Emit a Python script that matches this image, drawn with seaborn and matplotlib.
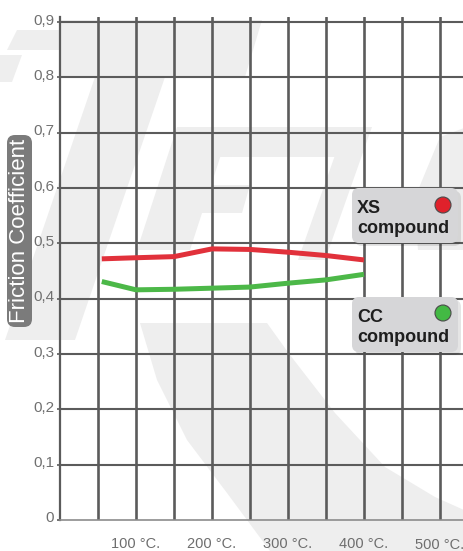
import numpy as np
import pandas as pd
import matplotlib
matplotlib.use('Agg')
import matplotlib.pyplot as plt
import matplotlib.transforms as mtransforms
from matplotlib.patches import FancyBboxPatch, Polygon, Circle
import seaborn as sns

# values
temps = [55, 100, 150, 200, 250, 300, 350, 400]
xs_friction = [0.472, 0.474, 0.476, 0.490, 0.489, 0.484, 0.478, 0.470]
cc_friction = [0.431, 0.416, 0.417, 0.419, 0.421, 0.428, 0.434, 0.444]
compounds = ['XS compound', 'CC compound']
line_colors = ['#e1313b', '#4cb848']
x_ticks = [100, 200, 300, 400, 500]
x_labels = ['100 °C.', '200 °C.', '300 °C.', '400 °C.', '500 °C.']
y_ticks = [0, 0.1, 0.2, 0.3, 0.4, 0.5, 0.6, 0.7, 0.8, 0.9]
y_labels = ['0', '0,1', '0,2', '0,3', '0,4', '0,5', '0,6', '0,7', '0,8', '0,9']

df = pd.DataFrame({
    'temp': temps + temps,
    'mu': xs_friction + cc_friction,
    'compound': [compounds[0]] * len(temps) + [compounds[1]] * len(temps),
})

W, H = 464, 551
sns.set_theme(style='white')
plt.rcParams['font.family'] = ['Liberation Sans', 'DejaVu Sans']

fig = plt.figure(figsize=(W / 100, H / 100), dpi=100, facecolor='white')
# pixel transform, origin top-left
px = mtransforms.Affine2D().scale(1, -1).translate(0, H)

# faint logo watermark in the background
wm = '#eeeeee'
shapes = [
    [(17, 30), (60, 30), (60, 50), (7, 50)],
    [(0, 55), (22, 55), (12, 82), (0, 82)],
    [(60, 20), (262, 20), (245, 77), (60, 77)],
    [(95, 77), (165, 77), (75, 340), (5, 340)],
    [(185, 127), (350, 127), (342, 157), (177, 157)],
    [(165, 185), (250, 185), (242, 213), (157, 213)],
    [(177, 127), (230, 127), (190, 250), (137, 250)],
    [(345, 127), (372, 127), (325, 260), (298, 260)],
    [(440, 137), (464, 128), (464, 250), (418, 250), (414, 200)],
    [(140, 323), (267, 323), (290, 355), (335, 413), (385, 467), (435, 497),
     (464, 510), (464, 551), (270, 551), (227, 493), (187, 440), (157, 380)],
]
for pts in shapes:
    fig.add_artist(Polygon(pts, closed=True, transform=px, fc=wm, ec='none', zorder=-5))

ax = fig.add_axes([60 / W, 31 / H, 404 / W, 503 / H])
ax.patch.set_alpha(0)

sns.lineplot(data=df, x='temp', y='mu', hue='compound', palette=line_colors,
             lw=3.6, legend=False, ax=ax, solid_capstyle='butt')

ax.set_xlim(0, 404 / 0.76)
ax.set_ylim(0, 503 / 553.3)
ax.set_xticks(x_ticks)
ax.set_xticklabels(x_labels)
ax.set_xticks([50, 150, 250, 350, 450], minor=True)
ax.set_yticks(y_ticks)
ax.set_yticklabels(y_labels)
ax.set_xlabel('')
ax.set_ylabel('')

grid_c = '#5b5b5b'
ax.set_axisbelow(True)
ax.grid(which='both', axis='x', color=grid_c, lw=1.9)
ax.grid(which='major', axis='y', color=grid_c, lw=1.5)
ax.get_ygridlines()[0].set_visible(False)

for s in ['top', 'right']:
    ax.spines[s].set_visible(False)
ax.spines['left'].set_color(grid_c)
ax.spines['left'].set_linewidth(1.6)
ax.spines['bottom'].set_color('#8c8c8c')
ax.spines['bottom'].set_linewidth(1.2)

ax.tick_params(axis='x', which='both', length=0, pad=12, labelsize=10.5, labelcolor='#6e6e6e')
ax.tick_params(axis='y', length=2.2, width=1.2, color=grid_c, pad=2,
               labelsize=11, labelcolor='#707070', left=True)

up = mtransforms.ScaledTranslation(0, 0.03, fig.dpi_scale_trans)
for lbl in ax.get_yticklabels():
    lbl.set_transform(lbl.get_transform() + up)
down = mtransforms.ScaledTranslation(0, -0.015, fig.dpi_scale_trans)
last = ax.get_xticklabels()[-1]
last.set_transform(last.get_transform() + down)

# y axis label in a rounded box
fig.add_artist(FancyBboxPatch((7, 135), 25, 192, boxstyle='round,pad=0,rounding_size=8',
                              transform=px, fc='#7b7b7b', ec='none'))
fig.text(20, 231, 'Friction Coefficient', transform=px, rotation=90, color='white',
         fontsize=16, ha='center', va='center')

# legend boxes
legend_boxes = [(188, 205, 'XS', '#e0212b'), (297, 313, 'CC', '#43b944')]
for top, cy, name, col in legend_boxes:
    fig.add_artist(FancyBboxPatch((355, top + 3), 106, 55, boxstyle='round,pad=0,rounding_size=7',
                                  transform=px, fc='black', ec='none', alpha=0.10))
    fig.add_artist(FancyBboxPatch((352, top), 106, 55, boxstyle='round,pad=0,rounding_size=7',
                                  transform=px, fc='#d6d6d8', ec='none'))
    fig.add_artist(Circle((443, cy), 8, transform=px, fc=col, ec='#4a4a4a', lw=0.8))
    fig.text(357, top + 25, name, transform=px, fontsize=13, fontweight='bold',
             color='#1e1e1e', ha='left', va='baseline')
    fig.text(357, top + 45, 'compound', transform=px, fontsize=13, fontweight='bold',
             color='#1e1e1e', ha='left', va='baseline')

fig.savefig('out.png', dpi=100)
